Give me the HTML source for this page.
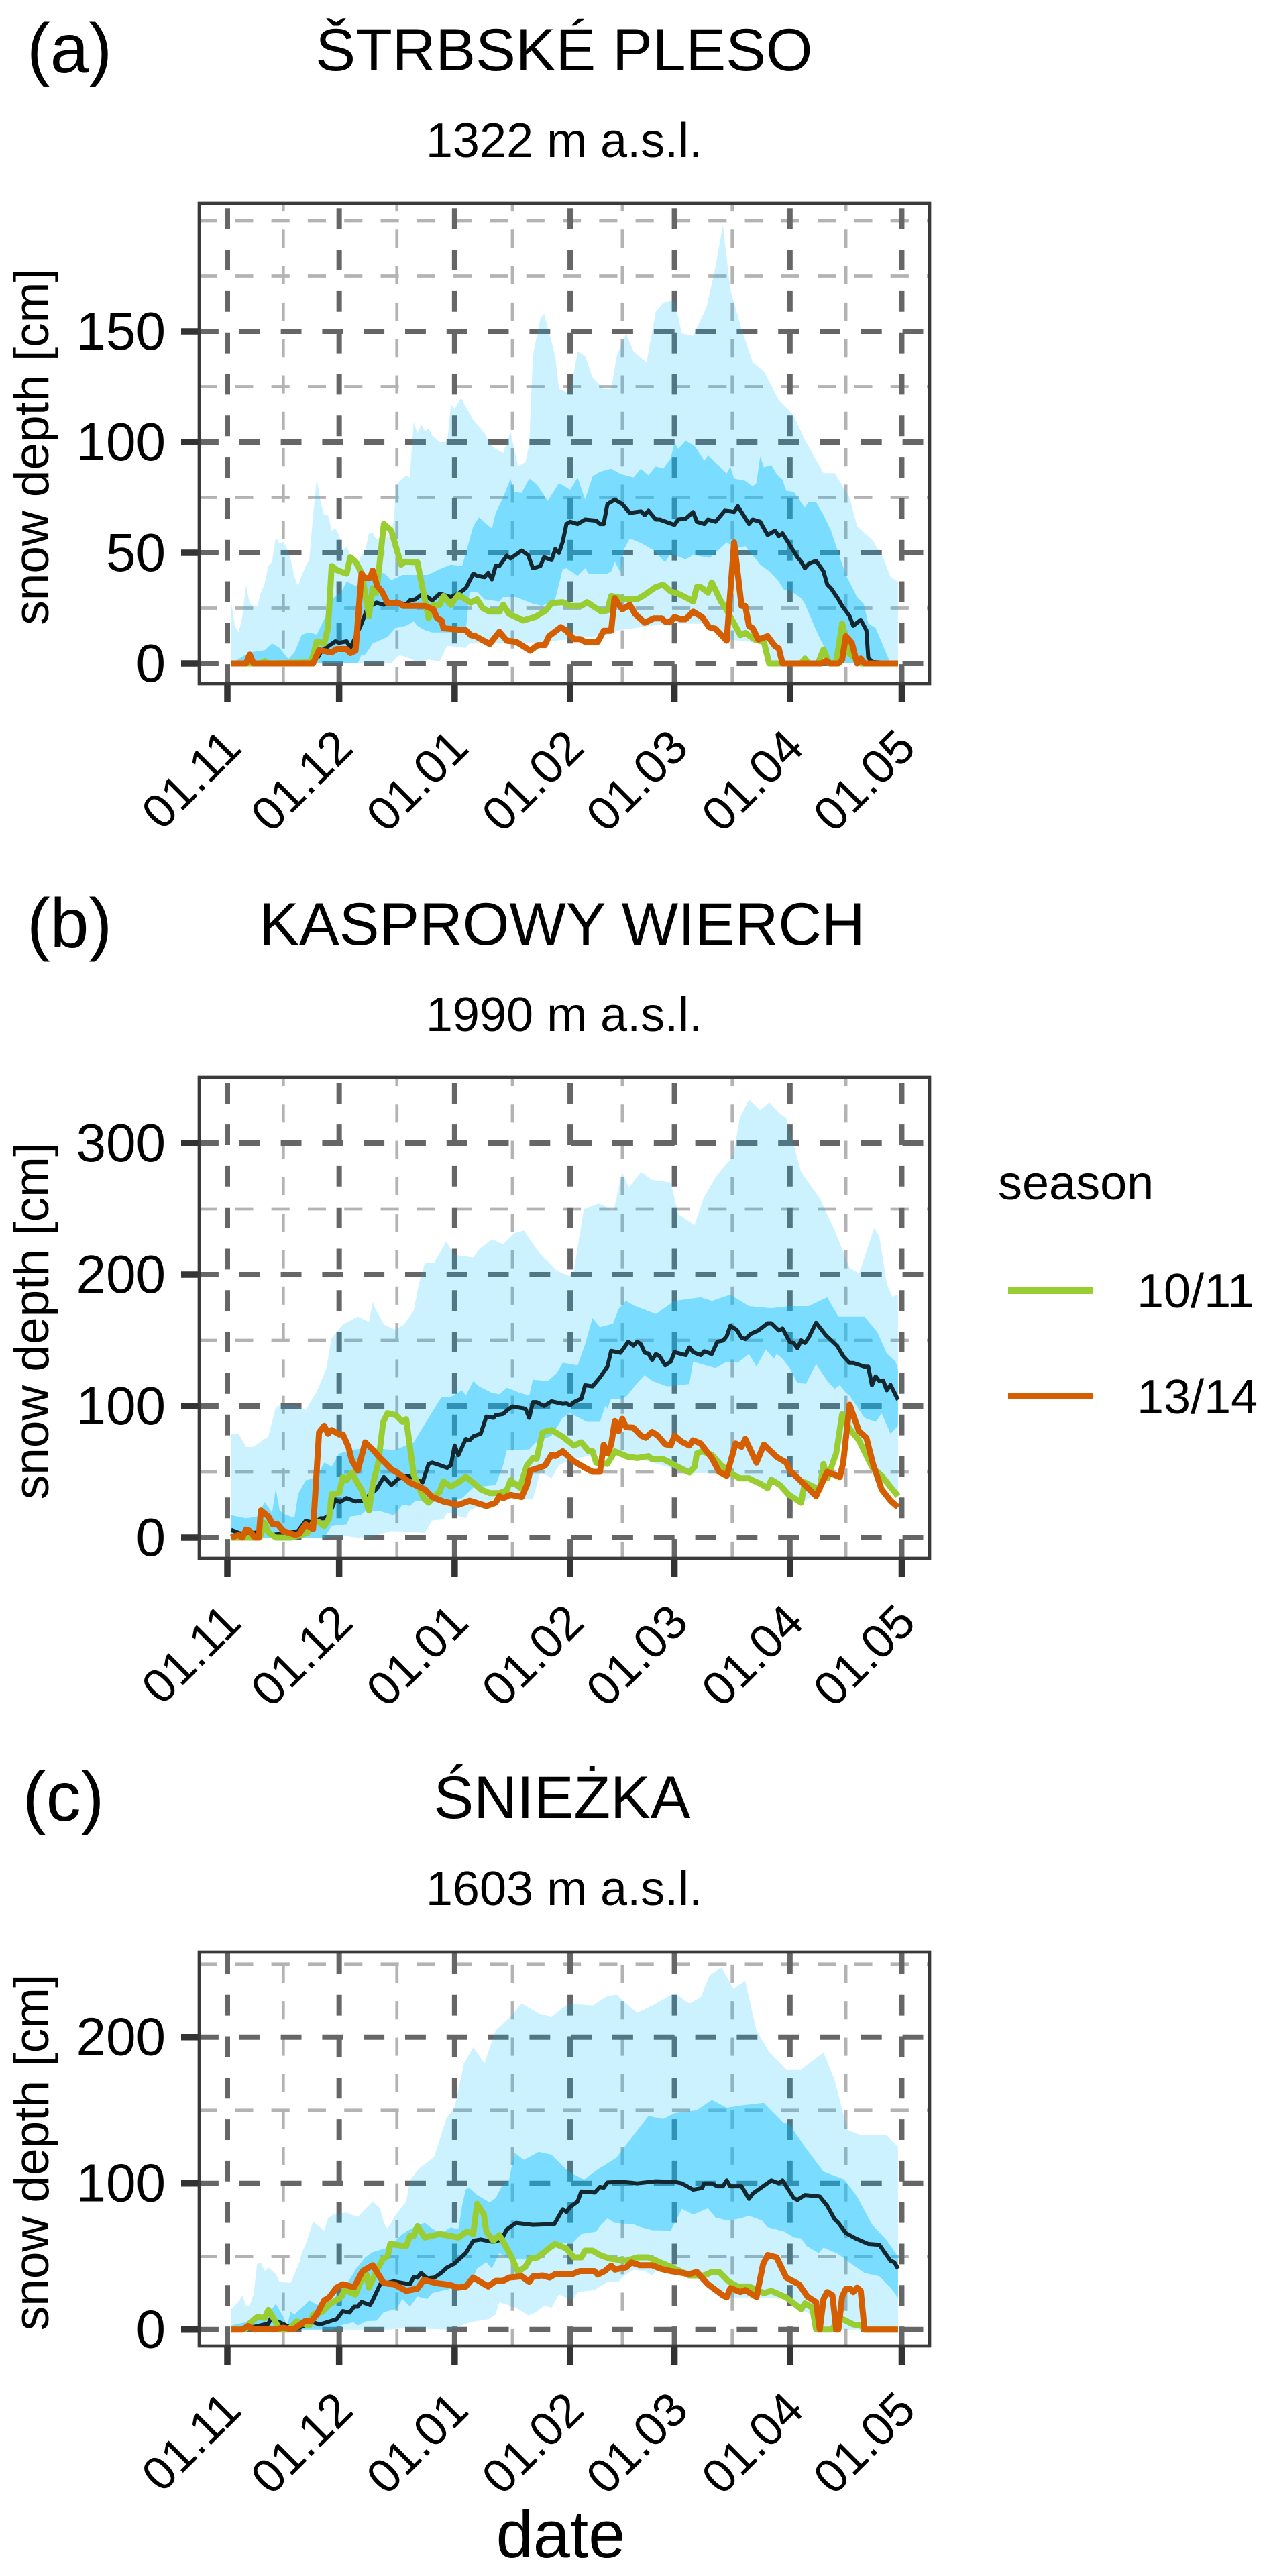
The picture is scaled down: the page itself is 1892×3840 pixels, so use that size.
<!DOCTYPE html>
<html lang="en">
<head>
<meta charset="utf-8">
<title>Snow depth at three mountain stations</title>
<style>
html,body{margin:0;padding:0;background:#fff;}
svg{display:block;}
text{font-family:"Liberation Sans",Arial,sans-serif;fill:#000;}
</style>
</head>
<body>
<svg id="figure" width="1892" height="3840" viewBox="0 0 1892 3840" xmlns="http://www.w3.org/2000/svg">
  <rect x="0" y="0" width="1892" height="3840" fill="#ffffff"/>
  <text x="40" y="108" font-size="104">(a)</text>
  <text x="841" y="105" font-size="89.5" text-anchor="middle">ŠTRBSKÉ PLESO</text>
  <text x="841" y="234" font-size="72" text-anchor="middle">1322 m a.s.l.</text>
  <text x="40" y="1412" font-size="104">(b)</text>
  <text x="838" y="1408" font-size="89.5" text-anchor="middle">KASPROWY WIERCH</text>
  <text x="841" y="1537" font-size="72" text-anchor="middle">1990 m a.s.l.</text>
  <text x="34" y="2714" font-size="104">(c)</text>
  <text x="838" y="2710" font-size="89.5" text-anchor="middle">ŚNIEŻKA</text>
  <text x="841" y="2840" font-size="72" text-anchor="middle">1603 m a.s.l.</text>
  <text x="836" y="3812" font-size="99" text-anchor="middle">date</text>
  <text x="1488" y="1788" font-size="72">season</text>
  <line x1="1503" y1="1924" x2="1629" y2="1924" stroke="#9ACD32" stroke-width="10"/>
  <text x="1695" y="1949" font-size="72">10/11</text>
  <line x1="1503" y1="2081" x2="1629" y2="2081" stroke="#D55E00" stroke-width="10"/>
  <text x="1695" y="2107" font-size="72">13/14</text>
</svg>
<script>
/* ---------- shared axis data ---------- */
const monthTickDays = [0,30,61,92,120,151,181];
const monthTickLabels = ["01.11","01.12","01.01","01.02","01.03","01.04","01.05"];
const monthMinorDays = [15,45.5,76.5,106,135.5,166];

/* ---------- panel (a) Štrbské Pleso ---------- */
const aMajorTicks = [0,50,100,150];
const aMajorLabels = ["0","50","100","150"];
const aMinorTicks = [25,75,125,175,200];
const aMaxDays = [1,2,3,4,5,6,7,8,9,10,11,12,13,14,15,16,17,18,19,20,21,22,23,24,25,26,27,28,29,30,31,32,33,34,35,36,37,38,39,40,41,42,44,44.7,45.3,46,48,49,49.5,50,51,52,53,54,55,57,59,60,61,62.7,66,69,71,74,76,78,80,81,82,84,85,88,89,92,94,96,98,101,103,104.5,107,109,112.5,115,117,120,122,125,128.6,131,133,135,138,141,144,148,152,155,160,163,167,169,173,176,178,180];
const aMaxVals = [28.5,17,14,21,35.5,27,25.5,26,32,36,44,46,57,54,55,52,47,39,35,40,44,47,67,83.5,73,67,67,60,61,58,51,53,49,48,45,49,51,59,59,56,57,55,60,65,80,82,85,84,98,109,104,108,105,106,103,100,100,117,115,120,110,104,98,95,105,89,91,99,139,156,158,139,124,122,141,139,129,124,124,139,149,141,136,159,163,164,149,148,161,179,198,169,151,136,132,119,112,101,86,86,75,62,56,48,39,37];
const aMinDays = [1,44,46,48,51,54,57,59,64,65,79,83,102.3,105,118,129,134,143.5,145,180];
const aMinVals = [0,0,3.7,3,0.5,1.7,1,8,7,9,9,9.3,13,15,18,18,11,9,0,0];
const aQ3Days = [1,6,10,12,14,16.4,18,20,22,24,26,28,30.5,32,34.4,38,42,44,47,50.5,53.7,55,57.5,60,63,66,67.5,69.5,71,72,74,76,77,79,81,83,86,89,92,94,96,98,100,103,105.5,109,111,113,115,117,119,120,121,123,125.5,128,129,134,135,136,139,141,142,143,144,146,147.4,149,150,152,155,156,158,160,162,164,166,169,170.8,172,174,176,178,180];
const aQ3Vals = [0,5,6,9,7,2,5,13,14,13,20,29,32,37,35,38,41,37.6,40,40,40,41,43,44.6,44,62,66,63,61,68,75,83.5,77.5,77,83.5,81,73.4,81.5,78.5,84,74,84.5,86.6,88,85.6,84,88,85,89,88,92.6,99.7,97,100.7,98,91.6,94,85.8,89,83.5,82.5,80,81.5,93.6,88.6,89.6,85.6,83,78,77.5,70.4,73,73,67,60,50,40,30,27,18,16,8,0,0];
const aQ1Days = [1,35,36,37,39,43,45,48,50,51,53,55,57.5,60,64,65,67,69,73,74,77.5,82,84.5,88,90,91,94,96,97,102,103,104,105.5,106.5,108,111.5,114.5,117.5,119,123,125,129.5,134,136.5,139,143,145.5,148,149.5,151,154,155,158,160,161,180];
const aQ1Vals = [0,0,4,4,9,12,16,17,19,17,15,14,14,14,15,32,32.5,29,28,30,30,27,26,29,42.6,43,39.6,43,40.6,40.6,41.6,46,41,51.7,56.5,54,51,45.7,49.7,47,49,47.7,54.7,52,53,44.6,41.6,37,33,33,29.5,27,15,8,0,0];
const aMedianDays = [1,21.5,24.4,25.4,27.3,29,30,32,33,34.4,36,37.6,40,42,45.3,48,49,50.5,52,53.7,55,57,60,62,64,66,67,69,70,71,72,73,75,76,79,80.7,82,84,85,87,88,89,90,91,92,94,96,99,100,101,102,104,106,108,111,112,113,115,116,120,121,123,125,126,128,129,131,133.5,135,136,137,140,141,143,145,147,148,149,153,154,155,156,158,160,161,162,164,165,167,168,170,171.5,172,173,180];
const aMedianVals = [0,0,3,6,8,10,9.3,10,7,12,18,25,27.5,26.5,28,26.5,28.5,29,31,30,28.5,31.5,30,31.5,34,40.6,39.6,39,41,38,44,44,48.7,47.5,51,49,43,44,48,46.7,51.7,50,55,63,64,63,65,64.5,63,63,72,74,72,68,68.7,67,69,65,65,62.6,65,65.4,68.4,64,63,65,64,69,68.7,68.4,71,63,65,64,58,60,57.5,58.8,48,46,43,45,46.4,41.6,35.6,34,29,26,21.4,17,19.7,15,2.7,0.7,0];
const aGreenDays = [1,9,10,11,22.5,24,26,27,28,29.6,32,33,34.4,36,38,39,40,42,44,46.6,47.6,51,54,55.3,57,58,60,62,65.3,67,68.5,70.4,73,74,75.6,79.4,82.6,85.5,87,90,92,95,96.5,100.4,102,103,104.5,107,110,112,115,117,119,121,124,125,126,127,129,130,132.5,133.7,136,137.7,139,141.6,144,145.4,154,155,156,158.5,160,161.5,163.4,165,166.6,170,180];
const aGreenVals = [0,0,1,0,0.5,10,9,16,44,42,40.6,48,46,41,21.4,34,32,63,60,44.6,46,45.7,20.4,26.5,26.5,30.5,26.5,31,27.5,29,25,23.4,23.4,26.5,22.4,19.4,21,24,27.3,27.7,26,26,27.7,23.4,24,30.5,30,29,29,31,34.5,35.6,32.5,31.5,29,28,34.5,34.5,32,36.6,28,25,18,12.8,13.8,10.8,9.8,0,0,2.2,0,0,6.3,0,0.5,18,5,0,0];
const aOrangeDays = [1,5,6,7,23,24.6,28,29.3,32,33,34.4,36,37,38.3,39,40.2,41.5,43,46,47.3,53,55.3,56.3,57.5,58,64,65.3,66.6,70.4,73,75,77.5,81.3,83.3,85.2,86.3,89.5,91,93,94.6,96,99.4,101,103,103.9,106,108,109.4,112,114.5,116.5,117.5,119,120,121.6,123,125,127.4,129.3,131,134,136,138,139,140,141,142.5,145,147,148,149,159.5,160.8,161.8,164,165,166,167.6,169,170,171,180];
const aOrangeVals = [0,0,4,0,0,6,5,6.5,6.5,4.7,5.8,40.6,38.6,38.6,42,35,32.5,27.3,27.3,26,26,24.4,20.4,19.4,15.9,15,12.8,12.3,8.8,14.3,10.3,9.8,5.8,8.3,8.3,12.3,16.4,14.8,11,11,9.8,9.8,14.8,14.8,29.5,24.4,26.5,22.4,18.4,20.4,20.4,18.9,18.9,21,20,20,23.4,21,16.4,15.7,10.3,54.7,26,26,16.9,15.9,10.8,12.3,7.8,6.8,0,0,1.2,0,0,1.7,12.3,9.3,0,2.2,0,0];

/* ---------- panel (b) Kasprowy Wierch ---------- */
const bMajorTicks = [0,100,200,300];
const bMajorLabels = ["0","100","200","300"];
const bMinorTicks = [50,150,250];
const bMaxDays = [1,3,5,7,11,13,14.5,18,21,24,26.5,28,31,35,38,39,40,42,45,47.4,50,51.4,53,55.5,58.7,61,66,67.5,71,74,77,79.6,83.6,88.4,91.6,93,95.7,99.7,103.7,106,107.7,111,114,119,121,125.4,127.8,131,135.8,137.5,140,143,145.5,148,150,154,159,163,167,169.6,171,173.6,175,177,178.5,180];
const bMaxVals = [79,79,69,69,77,99,101,101,97,111,128,152,162,168,164,179,172.5,162,158,162,172.5,193,209,209,225,215,213,219,227,223,231.5,233.5,217,203,199,203,250,254,249,278,266,278,272,270,246,237.6,258,274,290.5,319,333,325,331,323,319,278,258,233.5,205,201,213,235.6,229,193,183,185];
const bMinDays = [1,26,32,35,38,44,53,55,58,59,64,65,72,82,84,87,89,92,103,124,134.3,147,154,158,161,164,167,173,180];
const bMinVals = [0,0,1,0,0.3,5,3.6,13,13.8,19,14.6,20.6,30,29,50,45,55,59,66,49,49,40,26,33,55,66,85,57,32];
const bQ3Days = [1,5,8,10,12,13,14,15,18,19,21,23,24.4,26,28,30,34,39.5,45,47,50,54,57.5,60,63,64,66,67.5,71,73,75,78.5,81,82,86,88.4,90,94,96,98,100,103.5,105,107,109,115,120,127,130,135,140,146,151,156,161,164,169,171,174.5,177,179.3,180];
const bQ3Vals = [17,14.6,16,27,19,37,21,18,15,33,43.5,45,48.6,57,54,64,67,68,66.5,69,72.4,91,107,107,112,108,119,115,110,109,114,110,108,120,119,125,133,131,147,167,160,162.6,174,180,176.6,170,180,182.7,180,184.7,176,174.5,176,176,182.7,168,168,168,156,140,134,128];
const bQ1Days = [1,26,28,32,33,35.7,37,41,44.7,47,49,50.5,53.7,57,63,66,72,74,75,81,82.6,87,90,92,96.5,100,101.5,102,103,105.5,107,110,112,114,118,124,125,131,134,137,140,142,144.5,146.7,147.4,149,151,153,155.3,158,161,163,164.4,166,167,171,174,175.6,178,180];
const bQ1Vals = [0,0,8.7,10,16,17,20,20,17,25,24,28,28,26.5,30,38,40,55,66.5,67,72,77.5,91,94.5,88,88,100.5,98,105.6,105.6,107,117.5,123.5,119,115,116.7,133.7,129,133.7,133,139.6,130,143,136,139.6,136,128.6,117.5,117,132,119,113,116,110,108,91,88,94.5,79,85];
const bMedianDays = [1,3,5,10.6,11.6,14,16.4,19,21,23.5,25,26,27.3,29,30.2,32,34.4,36.3,40,42,44,46,48.5,52.4,54,55,57.5,59,60,61,62,64,65,66,68,69.5,71.4,72,74,75,76.5,80,81,82,83,85,87,90,91,92,93,95,96,98,100,102,103,105.5,107.6,109,110,111,112,113,114,115,116,117.5,119,120,123,124,125,127,128,130,131.5,133,134,135,136.7,138,139,140.5,142.5,145,146,148,149,151,152,153,154,155,156,158,160.6,163.7,165.3,167,168,171,172,173,174,175,176,177,178,180];
const bMedianVals = [5.8,3.6,2,6,2,2.7,3.5,5,12.6,11,14.6,14.6,17,29,27,30,27.4,28,36.7,46,40,45,47,42,56,57,54.6,53,55,70,62.6,75,74,77,79,92,91,93,94,96.6,99.7,98,91,103,103,100,103.6,101.7,102,100.5,103,105.6,115.8,115,121.8,130,142,140.5,149,146,149,147,140.5,140,135,139.6,138,131,133.7,141,138.8,144.7,141,138.8,141.7,139.6,149,149.8,153,161,158,152,151,155,157.5,163,163,157.5,159,148.6,148,144,150,148,152,163.4,154,145.6,138,132.8,132.8,130,130,115.8,122.6,119,119.5,112,116,104.8];
const bGreenDays = [1,8.7,10,11,13,17,19.6,21.5,23,24.4,26,27.3,28,30,31,32,33.4,35,36,38,39,40.5,41.8,43,45.3,47,48,50,51.4,52.7,54,57,58,60,62,64,66,68,70.4,73,75,76,78.5,80.4,82,83,84.6,87,90,93,95,97,98,99,102,104,107.5,110,113,114,117,121,124,125.4,126,127.4,130,132.5,135,137.4,140,141,143,145,146,148.3,150.5,154,155,157,159,160,161,163.4,165,167,169.5,173,175.6,178,180];
const bGreenVals = [0,0,11,4,0,0,2,3.6,11,12,8.7,14.6,33,34,46,43.5,49.5,41,36.7,20.6,40,57,87.8,94.6,93,88,90,47.8,38,30,26.5,35,42.7,38.8,42,46,41.8,36.7,33.8,33.8,36,43.5,38,55,60.5,60,80,81.8,76.7,70,72.4,65.6,65.6,57,56,65.6,61.4,60.5,62,59.7,59.7,53.7,49.5,53.7,64,65.6,63,55,49.5,45,45,43.5,41,37.6,44,40,33,26.5,42,39,36.7,56,45,64,93.7,82.6,74,53.7,47,38.4,31.6];
const bOrangeDays = [1,3,4,5,6,7.4,8.4,9,11,12.2,13.5,15,18.3,19.3,21,23,24.6,26,27,28,30,31,32.5,33.4,35,37,39,40.5,44,46,49,53,55,58,62,65,69.5,72,73,74,76,79,80.4,81.3,85.2,87,88,90,93,96,98,100,101,102,103,104,105,106,107,109,111,112.3,114,115.5,117.5,119,120,122,124,125,127,130,132,134,136.4,138,139,142,144,147.4,150,151,158,161,164.4,165.3,167,168,169.5,171.5,173.4,175.6,178,180];
const bOrangeVals = [0,2,0,6,5,0,0,20.6,16,10,10,5,2,3,10,6.5,80,85,79,81.8,78.4,78.4,69,58.8,51,72.4,67,62,52,48.6,41.8,36.7,30.8,27.4,24.8,28,24,26.5,31.6,30,32.5,30.8,40,51,54.6,63,62,65.6,58,53,50,50,70.7,64,70.7,88.6,81,90.3,84,83.5,77.5,75.9,80.4,77.5,71,70,77.5,72.8,70,74,71.6,60.5,50,47,71.6,69,75,57,70.7,61.4,57,51,31.6,50,46,57,101,93,81,75.9,55,36.7,28,23];

/* ---------- panel (c) Śnieżka ---------- */
const cMajorTicks = [0,100,200];
const cMajorLabels = ["0","100","200"];
const cMinorTicks = [50,150,250];
const cMaxDays = [1,3,4,5,6,7,8,9,10,11,13,14,17,18,19.3,20,21,23,26,27,28.6,32,35,39,41,42,43,45.3,48,49,51.4,55.5,58.7,61,63.5,66,69,72,76,79,83.6,87,91.6,98,102,104.5,107,110,114,120,124,127,129.4,132.6,135.8,139,142,145.5,150,154,160,163,166.4,170,177,180];
const cMaxVals = [14,19,23.4,16.5,16.5,24,45,45.6,40,42.5,38,32.6,32,38,45.6,53,58,74,67.7,76,79,80,77,87.6,83,73,69,79,87.6,102,110,118,144,152,182,193,182,204.5,214,223,216,214,223,221.5,228,229,223,216.6,221.5,230,223,227,242,248,233,238.5,204.5,189.4,178,178,189.4,170.6,136.6,133,133,125];
const cMinDays = [1,44,46,60,65,70,72,73,77.5,79.4,80.7,83,85,87,89,92.6,94,98.5,102,105,106,109,112,114,115,124,128,134,142,150,154,157,158,180];
const cMinVals = [0,0,1,0,5,7,10.4,18.8,15,12,9.6,12,16.5,15,24,20,25.7,27,32.6,32.6,36,41,40,37,40,38,35,22,22,21,13.5,10,0,0];
const cQ3Days = [1,5,8.7,11.6,13,15,16,17,18,20,22,24,26.7,30.5,33,34.4,37,39,43,47,51,53,55,57.5,60,62,63,64,65,67,70.4,72,73.6,75.6,77,79.6,83.6,87,91.6,95.7,99.7,104.5,109,113,117,120,126,130,134,139,144,149,151,155,160,165.6,169,173,177,180];
const cQ3Vals = [2.8,5,9,12.7,17.6,9,3,12,10.4,15,20,17,18,25.7,35,41,49.4,53,56,65.4,71.6,73,69,66,70,68.5,85,96,96.8,92,87,90,97.6,102,121,116,121.5,119.6,108,102.6,110,117.7,133,146,144,148,150,157,151.7,153.6,155,142,140,125,108,102.6,91,72,61,50];
const cQ1Days = [1,28,30.5,33.8,35,37.3,40,42,45.3,47,49,51,53.7,55,57.5,60,64.6,67,69.5,71,73,76,82,86,88,92.6,95,99,100,102,104,109,111,114,119,120.7,122,125,129,131,134.5,137.7,140,143.5,145,149.5,152,154,155.5,158.7,160,164,167.5,171,175,178,180];
const cQ1Vals = [0,0,3,5,2.8,5.8,6,12,14,21,15.7,22.6,21,25,26.5,28,28,41.7,46,41.7,52.4,48,48,56,59,59,65.4,67,70.8,76,73,72,70,68,67.7,76,82.6,78.7,83,76.6,74.5,76,78,74.5,70,67,63,62.4,57,52.4,56,51.7,44.8,38.7,36.4,28.7,21.9];
const cMedianDays = [1,7.4,10,11,11.6,14,15.8,18,23,24.8,27.3,29.3,31,32.8,34,35,36,38.3,39,41,44.7,49,50,51,52,53.7,55.6,57.5,59,60.8,64,66,68,71.4,73.6,75,77.5,82,86,87.8,90,91,92,94,95,98.6,100,101,102,106,110,115,120,122,125,127.4,128,130,131.5,133,134,135,138,140,141,146,148,149,152,153,155,159,161,163,164,166,168.6,172,175,178,179,180];
const cMedianVals = [0,2,3.5,4,7.3,5,2.8,0,5,3.5,5.5,7,12.7,11.6,15.7,15.7,19,16.8,20,31,33,31,36,35.5,38.7,35,35.6,39,42.5,44.8,52.4,60.8,61.6,60,61.6,68.5,73,71.6,72,72.3,82.3,80.4,83.8,87.6,94.5,93.7,97.6,97,100.6,101,100,101.4,101,100,95.7,96.8,100,100,98,98,102,98,98,89.4,93,102,100,102,90,88.7,92,91,84.6,75.4,73,66,62.4,58.6,58,47,46,41.7];
const cGreenDays = [1,5,6,8,10,11,12.5,14,16.4,18.6,22,23,25.4,27.3,30.5,31.5,34.4,35.7,37.3,38,40,41.8,43,43.7,48,49,50,51,53,57,62,64.3,66,67,68.8,69.5,71.4,73,76,78,80,81.3,83.3,86.5,88,91,93,95,96,98,100,102.6,107,110,113,119,124,128,130,132,134.5,137,140,144,146,150,154,155,157,158,162,165,168,170,171,180];
const cGreenVals = [0,0.5,4.3,8.6,8,13.5,7.3,0,0,5.5,2.8,10.4,12,17,22,27,24,32.6,38,28.7,40,48.6,50,58.6,57,64,64,70.8,63,65.4,63,67,65.4,86,79,67,60.8,64.7,51,39.4,43,48.6,49.4,56,58.6,55.5,49.4,49.4,54,54,51,48.6,47,49.4,49.4,43,37,37,39.4,39.4,33,29.5,29.5,25,26.5,22,14,18,15,0,0,7.3,3.5,2.8,0,0];
const cOrangeDays = [1,4,5.5,7.4,10,12,15,17.7,21,22.5,24,26,27.3,29.3,31,34,36.3,39,42,44.7,48,51,52.7,56,59.5,62,64,66,70,72,74,75.6,79,81,82,84.6,86.5,88,92.6,94.6,98.5,99.4,101.3,103,104,107,108.4,110.7,114,116.5,119,124,126,129,133,134,135,137.7,139,142,143.8,145,147.4,150,153.4,155.7,158,159,160,161,162.4,163.4,164,165,166,167.3,168,169,170,171,180];
const cOrangeVals = [0,0,2.4,0,0.5,0,1.2,0,6,5.5,10.4,20,22,28.7,31,29,40,44,31.8,31,26.5,28,34,31.8,30.7,28.7,29.5,35.6,29.5,33.3,33.3,35.6,36.4,32.6,36.4,37,35.6,38,38,40,40,37.6,40,43.7,41,42.5,45.9,44,44,41.4,40,38,39.4,31,23.4,22,28.4,25.7,27,22.3,44.8,51,49.4,35.6,31,22.6,18.8,0,21,25.7,23.4,0,0,22.6,27.7,27.7,25.7,28.7,26.5,0,0];

/* ---------- axis functions ---------- */
const NS = "http://www.w3.org/2000/svg";
const svg = document.getElementById("figure");
const xScale = d => 339 + d * 5.555;
const yScaleA = v => 989 - v * 3.3;
const yScaleB = v => 2292 - v * 1.96;
const yScaleC = v => 3472.7 - v * 2.18;

function gridLine(parent, x1, y1, x2, y2, major, name) {
  const el = document.createElementNS(NS, "line");
  el.setAttribute("x1", x1); el.setAttribute("y1", y1);
  el.setAttribute("x2", x2); el.setAttribute("y2", y2);
  el.setAttribute("stroke", major ? "#666666" : "#b3b3b3");
  el.setAttribute("stroke-width", major ? 8 : 4.7);
  el.setAttribute("stroke-dasharray", major ? "30.9 30.9" : "27.15 27.15");
  
  
  parent.appendChild(el);
}
function tickMark(parent, x1, y1, x2, y2, name) {
  const el = document.createElementNS(NS, "line");
  el.setAttribute("x1", x1); el.setAttribute("y1", y1);
  el.setAttribute("x2", x2); el.setAttribute("y2", y2);
  el.setAttribute("stroke", "#333333");
  el.setAttribute("stroke-width", 9.5);
  
  
  parent.appendChild(el);
}
function ribbon(parent, topDays, topVals, botDays, botVals, y, opacity, name) {
  const pts = [];
  topDays.forEach((d, i) => pts.push(xScale(d).toFixed(1) + "," + y(topVals[i]).toFixed(1)));
  for (let i = botDays.length - 1; i >= 0; i--) pts.push(xScale(botDays[i]).toFixed(1) + "," + y(botVals[i]).toFixed(1));
  const el = document.createElementNS(NS, "polygon");
  el.setAttribute("points", pts.join(" "));
  el.setAttribute("fill", "#00BFFF");
  el.setAttribute("fill-opacity", opacity);
  
  
  parent.appendChild(el);
}
function seriesLine(parent, days, vals, y, color, width, name) {
  const el = document.createElementNS(NS, "polyline");
  el.setAttribute("points", days.map((d, i) => xScale(d).toFixed(1) + "," + y(vals[i]).toFixed(1)).join(" "));
  el.setAttribute("fill", "none");
  el.setAttribute("stroke", color);
  el.setAttribute("stroke-width", width);
  el.setAttribute("stroke-linejoin", "round");
  
  
  parent.appendChild(el);
}
function label(parent, x, y, size, anchor, transform, content, name) {
  const el = document.createElementNS(NS, "text");
  el.setAttribute("x", x); el.setAttribute("y", y);
  el.setAttribute("font-size", size);
  el.setAttribute("text-anchor", anchor);
  if (transform) el.setAttribute("transform", transform);
  el.textContent = content;
  
  
  parent.appendChild(el);
}

function drawPanel(id, y, top, bottom, majors, majorLabels, minors, s) {
  const L = 297, R = 1386;
  const g = document.createElementNS(NS, "g");
  
  
  svg.appendChild(g);

  const clip = document.createElementNS(NS, "clipPath");
  clip.setAttribute("id", "clip-" + id);
  const cr = document.createElementNS(NS, "rect");
  cr.setAttribute("x", L); cr.setAttribute("y", top);
  cr.setAttribute("width", R - L); cr.setAttribute("height", bottom - top);
  clip.appendChild(cr);
  g.appendChild(clip);

  const grid = document.createElementNS(NS, "g");
  grid.setAttribute("clip-path", "url(#clip-" + id + ")");
  
  
  g.appendChild(grid);
  minors.forEach(v => gridLine(grid, L - 1, y(v), R, y(v), false, "minor-gridline-y-" + v));
  monthMinorDays.forEach(d => gridLine(grid, xScale(d), bottom + 2, xScale(d), top, false, "minor-gridline-x"));
  majors.forEach(v => gridLine(grid, L - 2, y(v), R, y(v), true, "major-gridline-y-" + v));
  monthTickDays.forEach(d => gridLine(grid, xScale(d), bottom + 2, xScale(d), top, true, "major-gridline-x"));

  ribbon(g, s.maxD, s.maxV, s.minD, s.minV, y, 0.2, "min-max-ribbon");
  ribbon(g, s.q3D, s.q3V, s.q1D, s.q1V, y, 0.4, "quartile-ribbon");
  seriesLine(g, s.medD, s.medV, y, "#14262e", 6, "median-line");
  seriesLine(g, s.grD, s.grV, y, "#9ACD32", 9, "season-10-11-line");
  seriesLine(g, s.orD, s.orV, y, "#D55E00", 9, "season-13-14-line");

  const frame = document.createElementNS(NS, "rect");
  frame.setAttribute("x", L); frame.setAttribute("y", top);
  frame.setAttribute("width", R - L); frame.setAttribute("height", bottom - top);
  frame.setAttribute("fill", "none");
  frame.setAttribute("stroke", "#3a3a3a");
  frame.setAttribute("stroke-width", 4.7);
  
  
  g.appendChild(frame);

  majors.forEach((v, i) => {
    tickMark(g, 270, y(v), L - 2, y(v), "y-tick");
    label(g, 247, y(v) + 27, 80, "end", null, majorLabels[i], "y-tick-label");
  });
  monthTickDays.forEach((d, i) => {
    tickMark(g, xScale(d), bottom + 2, xScale(d), bottom + 28, "x-tick");
    const xe = xScale(d) + 24, ye = bottom + 99;
    label(g, xe, ye, 71, "end", "rotate(-45 " + xe + " " + ye + ")", monthTickLabels[i], "x-tick-label");
  });
  const cy = (top + bottom) / 2 + 5;
  label(g, 72, cy, 73, "middle", "rotate(-90 72 " + cy + ")", "snow depth [cm]", "y-axis-title");
}

drawPanel("a", yScaleA, 303, 1019, aMajorTicks, aMajorLabels, aMinorTicks, {
  maxD:aMaxDays, maxV:aMaxVals, minD:aMinDays, minV:aMinVals, q3D:aQ3Days, q3V:aQ3Vals, q1D:aQ1Days, q1V:aQ1Vals,
  medD:aMedianDays, medV:aMedianVals, grD:aGreenDays, grV:aGreenVals, orD:aOrangeDays, orV:aOrangeVals});
drawPanel("b", yScaleB, 1606, 2323, bMajorTicks, bMajorLabels, bMinorTicks, {
  maxD:bMaxDays, maxV:bMaxVals, minD:bMinDays, minV:bMinVals, q3D:bQ3Days, q3V:bQ3Vals, q1D:bQ1Days, q1V:bQ1Vals,
  medD:bMedianDays, medV:bMedianVals, grD:bGreenDays, grV:bGreenVals, orD:bOrangeDays, orV:bOrangeVals});
drawPanel("c", yScaleC, 2910, 3497, cMajorTicks, cMajorLabels, cMinorTicks, {
  maxD:cMaxDays, maxV:cMaxVals, minD:cMinDays, minV:cMinVals, q3D:cQ3Days, q3V:cQ3Vals, q1D:cQ1Days, q1V:cQ1Vals,
  medD:cMedianDays, medV:cMedianVals, grD:cGreenDays, grV:cGreenVals, orD:cOrangeDays, orV:cOrangeVals});
</script>
</body>
</html>
